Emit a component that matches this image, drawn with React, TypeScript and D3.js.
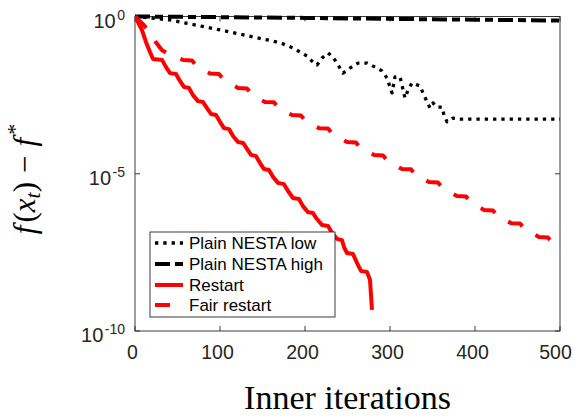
import React, { useEffect } from 'react';
import * as d3 from 'd3';

const W = 575;
const H = 417;

const xTicks = [0, 100, 200, 300, 400, 500];
const yTickExps = [0, -5, -10];

const legendLabels = ['Plain NESTA low', 'Plain NESTA high', 'Restart', 'Fair restart'];

// log10 of f(x_t) - f*
const lowIter = [0, 41.2, 76.5, 111.8, 138.8, 162.4, 174.1, 185.9, 194.1, 202.4, 209.4, 214.1, 220, 227.1, 232.9, 238.8, 244.7, 252.9, 262.4, 272.9, 282.4, 290.6, 296.5, 301.2, 302.4, 305.9, 311.8, 314.1, 317.6, 321.2, 325.9, 335.3, 338.8, 344.7, 347.1, 350.6, 355.3, 361.2, 363.5, 367.1, 374.1, 382.4, 500];
const lowLog = [0, -0.11, -0.3, -0.49, -0.65, -0.78, -0.87, -1.0, -1.13, -1.26, -1.45, -1.54, -1.32, -1.16, -1.29, -1.54, -1.8, -1.64, -1.48, -1.48, -1.61, -1.73, -1.96, -2.34, -2.43, -1.92, -1.92, -2.18, -2.59, -2.34, -2.11, -2.21, -2.43, -2.78, -2.91, -2.75, -2.88, -2.88, -3.13, -3.35, -3.23, -3.26, -3.26];

const highIter = [0, 100, 200, 300, 400, 500];
const highLog = [0, -0.02, -0.045, -0.075, -0.1, -0.13];

const restartIter = [0, 8.2, 12.9, 17.6, 21.2, 31.8, 36.5, 41.2, 48.2, 52.9, 57.6, 63.5, 68.2, 74.1, 80, 84.7, 89.4, 95.3, 100, 104.7, 110.6, 115.3, 121.2, 127.1, 131.8, 136.5, 142.4, 147.1, 151.8, 157.6, 162.4, 168.2, 175.3, 180, 185.9, 192.9, 197.6, 203.5, 209.4, 214.1, 220, 227.1, 231.8, 237.6, 243.5, 245.9, 249.4, 256.5, 261.2, 265.9, 272.9, 276.5, 278.8];
const restartLog = [0, -0.43, -0.81, -1.13, -1.35, -1.38, -1.61, -1.8, -1.83, -2.05, -2.24, -2.27, -2.5, -2.69, -2.72, -2.91, -3.1, -3.13, -3.35, -3.55, -3.58, -3.8, -3.99, -4.02, -4.21, -4.4, -4.44, -4.66, -4.85, -4.88, -5.1, -5.29, -5.33, -5.55, -5.77, -5.8, -6.03, -6.22, -6.25, -6.44, -6.63, -6.66, -6.88, -7.07, -7.11, -7.33, -7.52, -7.55, -7.84, -8.09, -8.12, -8.38, -9.33];

const fairIter = [0, 8.2, 15.3, 21.2, 25.9, 31.8, 37.6, 47.1, 56.5, 67.1, 72.9, 88.2, 98.8, 104.7, 121.2, 131.8, 137.6, 152.9, 163.5, 169.4, 184.7, 195.3, 201.2, 216.5, 227.1, 232.9, 249.4, 260, 265.9, 281.2, 291.8, 297.6, 314.1, 324.7, 330.6, 345.9, 356.5, 362.4, 378.8, 389.4, 395.3, 410.6, 421.2, 427.1, 442.4, 452.9, 458.8, 475.3, 485.9, 491.8, 500];
const fairLog = [0, -0.21, -0.43, -0.68, -0.87, -1.07, -1.16, -1.29, -1.38, -1.4, -1.59, -1.81, -1.83, -2.02, -2.27, -2.29, -2.48, -2.72, -2.73, -2.93, -3.13, -3.15, -3.34, -3.55, -3.56, -3.75, -3.99, -4.01, -4.2, -4.4, -4.42, -4.61, -4.85, -4.86, -5.06, -5.26, -5.28, -5.47, -5.71, -5.72, -5.91, -6.15, -6.17, -6.36, -6.57, -6.58, -6.77, -7.01, -7.03, -7.23, -7.39];

const PL = 135, PR = 560, PT = 16.5, PB = 331;
const AX = '#262626';

export default function App() {
  useEffect(() => {
    document.body.style.margin = '0';
  }, []);

  const x = d3.scaleLinear().domain([0, 500]).range([PL, PR]);
  const y = d3.scaleLog().domain([1e-10, 1]).range([PB, PT]);

  const mk = (it: number[], lg: number[]) => it.map((v, i) => [v, Math.pow(10, lg[i])] as [number, number]);
  const line = d3.line<[number, number]>().x(d => x(d[0])).y(d => y(d[1]));

  const series = [
    { d: mk(lowIter, lowLog), color: '#000', w: 3.3, dash: '3.3 5' },
    { d: mk(highIter, highLog), color: '#000', w: 4, dash: '15 5 8 5' },
    { d: mk(restartIter, restartLog), color: '#ff0000', w: 4, dash: undefined },
    { d: mk(fairIter, fairLog), color: '#ff0000', w: 4, dash: '16 15.9' },
  ];

  const tickLen = 5;
  const legX = 150, legY = 232, legW = 185, legH = 85;
  const legRows = [243, 264, 285, 305];
  const legendDash = ['3.3 5', '15 5 8 5', undefined, '15 30'];
  const font = "'Liberation Sans', Arial, Helvetica, sans-serif";
  const serif = "'Liberation Serif', 'Times New Roman', serif";

  return (
    <svg width={W} height={H} style={{ position: 'absolute', left: 0, top: 0, display: 'block', background: '#fff' }}>
      <rect x={0} y={0} width={W} height={H} fill="#fff" />
      <defs>
        <clipPath id="plotclip">
          <rect x={PL} y={PT - 4} width={PR - PL + 2} height={PB - PT + 4} />
        </clipPath>
      </defs>
      <rect x={PL} y={PT} width={PR - PL} height={PB - PT} fill="none" stroke={AX} strokeWidth={0.9} />
      {xTicks.map(t => (
        <g key={'xt' + t}>
          <line x1={x(t)} x2={x(t)} y1={PB} y2={PB - tickLen} stroke={AX} strokeWidth={0.9} />
          <line x1={x(t)} x2={x(t)} y1={PT} y2={PT + tickLen} stroke={AX} strokeWidth={0.9} />
          <text x={x(t) - (t === 500 ? 4.5 : 2.5)} y={359} textAnchor="middle" fontFamily={font} fontSize={19.5} fill={AX}>{t}</text>
        </g>
      ))}
      {yTickExps.map(e => (
        <g key={'yt' + e}>
          <line x1={PL} x2={PL + tickLen} y1={y(Math.pow(10, e))} y2={y(Math.pow(10, e))} stroke={AX} strokeWidth={0.9} />
          <line x1={PR} x2={PR - tickLen} y1={y(Math.pow(10, e))} y2={y(Math.pow(10, e))} stroke={AX} strokeWidth={0.9} />
          <text x={125} y={y(Math.pow(10, e)) + 11} textAnchor="end" fontFamily={font} fontSize={20} fill={AX}>
            10<tspan dy={-8} dx={1.5} fontSize={14}>{e === 0 ? '0' : '-' + Math.abs(e)}</tspan>
          </text>
        </g>
      ))}
      <g clipPath="url(#plotclip)">
        {series.map((s, i) => (
          <path key={i} d={line(s.d) || ''} fill="none" stroke={s.color} strokeWidth={s.w} strokeDasharray={s.dash} strokeLinejoin="round" strokeLinecap="butt" />
        ))}
      </g>
      <rect x={legX} y={legY} width={legW} height={legH} fill="#fff" stroke={AX} strokeWidth={0.9} />
      {legendLabels.map((lab, i) => (
        <g key={lab}>
          <line x1={155} x2={183} y1={legRows[i]} y2={legRows[i]} stroke={series[i].color} strokeWidth={series[i].w} strokeDasharray={legendDash[i]} />
          <text x={189} y={legRows[i] + 6} fontFamily={font} fontSize={17} fill="#000">{lab}</text>
        </g>
      ))}
      <text x={(PL + PR) / 2} y={409} textAnchor="middle" fontFamily={serif} fontSize={34} fill="#000">Inner iterations</text>
      <text transform={`translate(35, ${179}) rotate(-90)`} textAnchor="middle" fontFamily={serif} fontSize={31} fill="#000">
        <tspan fontStyle="italic">f</tspan>
        <tspan dx={3}>(</tspan>
        <tspan fontStyle="italic">x</tspan>
        <tspan fontStyle="italic" fontSize={22} dy={5}>t</tspan>
        <tspan dy={-5}>)</tspan>
        <tspan dx={9}>−</tspan>
        <tspan fontStyle="italic" dx={9}>f</tspan>
        <tspan fontSize={22} dy={-13} dx={3}>*</tspan>
      </text>
    </svg>
  );
}
